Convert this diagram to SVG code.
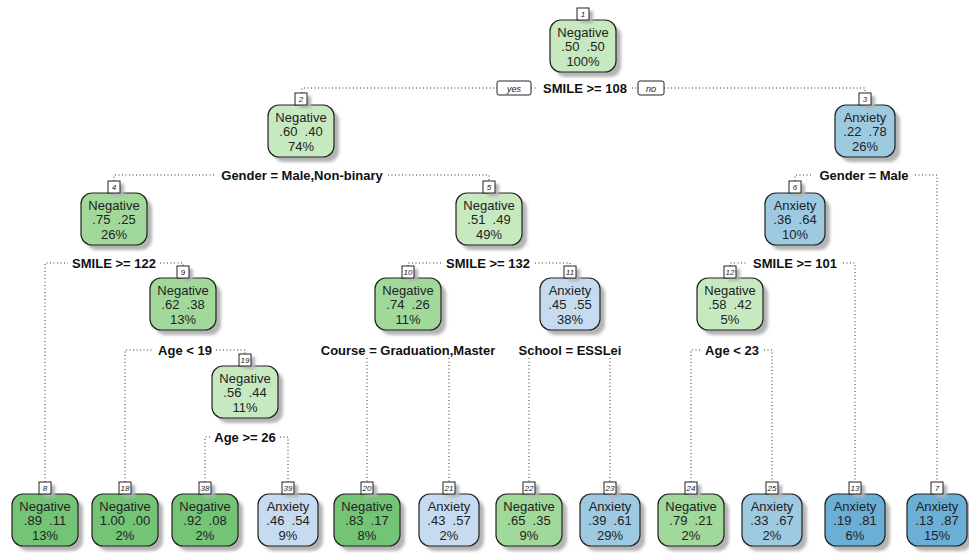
<svg xmlns="http://www.w3.org/2000/svg" width="969" height="553" viewBox="0 0 969 553">
<defs>
<filter id="blur" x="-20%" y="-20%" width="140%" height="140%"><feGaussianBlur stdDeviation="1.6"/></filter>
</defs>
<style>
.sh{fill:#b4b4b4;filter:url(#blur)}
.bx{stroke:#222;stroke-width:1.2}
.g1{fill:#c7e9c0}.g2{fill:#a1d99b}.g3{fill:#74c476}
.b1{fill:#c6dbef}.b2{fill:#9ecae1}.b3{fill:#6baed6}
.t{font-family:"Liberation Sans",Arial,sans-serif;font-size:13px;fill:#222;text-anchor:middle}
.nl{fill:#fff;stroke:#222;stroke-width:1}
.nt{font-family:"Liberation Sans",Arial,sans-serif;font-size:8px;font-style:italic;fill:#222;text-anchor:middle}
.sp{font-family:"Liberation Sans",Arial,sans-serif;font-size:13px;font-weight:bold;fill:#111;text-anchor:middle}
.c{fill:none;stroke:#333;stroke-width:1;stroke-dasharray:1,2.5}
.yn{fill:#fff;stroke:#222;stroke-width:1}
.ynt{font-family:"Liberation Sans",Arial,sans-serif;font-size:9px;font-style:italic;fill:#222;text-anchor:middle}
</style>
<rect width="969" height="553" fill="#fff"/>

<g id="connectors">
<path class="c" d="M302 93V88H497M531 88H538M632 88H638M664 88H865V93"/>
<path class="c" d="M114 181V175H216M388 175H489V181"/>
<path class="c" d="M795 181V175H813M915 175H937V482"/>
<path class="c" d="M45 482V263H68M160 263H183V266"/>
<path class="c" d="M408 266V263H441M535 263H570V266"/>
<path class="c" d="M730 266V263H746M843 263H855V482"/>
<path class="c" d="M125 482V350H153M216 350H245V354"/>
<path class="c" d="M367 358V482M449 358V482"/>
<path class="c" d="M529 358V482M610 358V482"/>
<path class="c" d="M691 482V350H700M764 350H772V482"/>
<path class="c" d="M205 482V437H211M280 437H288V482"/>
<rect class="yn" x="497" y="81" width="34" height="14" rx="2"/>
<text class="ynt" x="514" y="91.5">yes</text>
<rect class="yn" x="638" y="81" width="26" height="14" rx="2"/>
<text class="ynt" x="651" y="91.5">no</text>
<text class="sp" x="585" y="92.5">SMILE &gt;= 108</text>
<text class="sp" x="302" y="179.5">Gender = Male,Non-binary</text>
<text class="sp" x="864" y="179.5">Gender = Male</text>
<text class="sp" x="114" y="267.5">SMILE &gt;= 122</text>
<text class="sp" x="488" y="267.5">SMILE &gt;= 132</text>
<text class="sp" x="795" y="267.5">SMILE &gt;= 101</text>
<text class="sp" x="185" y="354.5">Age &lt; 19</text>
<text class="sp" x="408" y="354.5">Course = Graduation,Master</text>
<text class="sp" x="570" y="354.5">School = ESSLei</text>
<text class="sp" x="732" y="354.5">Age &lt; 23</text>
<text class="sp" x="245" y="441.5">Age &gt;= 26</text>
</g>

<g id="node1"><rect class="sh" x="555" y="25" width="66" height="52" rx="11"/><rect class="bx g1" x="550" y="20" width="66" height="52" rx="11"/><rect class="sh" x="581" y="11" width="12" height="12"/><rect class="nl" x="577" y="8" width="12" height="12"/><text class="nt" x="583" y="17">1</text><text class="t" x="583" y="37">Negative</text><text class="t" x="583" y="51">.50&#160;&#160;.50</text><text class="t" x="583" y="65.5">100%</text></g>
<g id="node2"><rect class="sh" x="273" y="110" width="66" height="52" rx="11"/><rect class="bx g1" x="268" y="105" width="66" height="52" rx="11"/><rect class="sh" x="299" y="96" width="12" height="12"/><rect class="nl" x="295" y="93" width="12" height="12"/><text class="nt" x="301" y="102">2</text><text class="t" x="301" y="122">Negative</text><text class="t" x="301" y="136">.60&#160;&#160;.40</text><text class="t" x="301" y="150.5">74%</text></g>
<g id="node3"><rect class="sh" x="840" y="110" width="60" height="52" rx="11"/><rect class="bx b2" x="835" y="105" width="60" height="52" rx="11"/><rect class="sh" x="863" y="96" width="12" height="12"/><rect class="nl" x="859" y="93" width="12" height="12"/><text class="nt" x="865" y="102">3</text><text class="t" x="865" y="122">Anxiety</text><text class="t" x="865" y="136">.22&#160;&#160;.78</text><text class="t" x="865" y="150.5">26%</text></g>
<g id="node4"><rect class="sh" x="86" y="198" width="66" height="52" rx="11"/><rect class="bx g2" x="81" y="193" width="66" height="52" rx="11"/><rect class="sh" x="112" y="184" width="12" height="12"/><rect class="nl" x="108" y="181" width="12" height="12"/><text class="nt" x="114" y="190">4</text><text class="t" x="114" y="210">Negative</text><text class="t" x="114" y="224">.75&#160;&#160;.25</text><text class="t" x="114" y="238.5">26%</text></g>
<g id="node5"><rect class="sh" x="461" y="198" width="66" height="52" rx="11"/><rect class="bx g1" x="456" y="193" width="66" height="52" rx="11"/><rect class="sh" x="487" y="184" width="12" height="12"/><rect class="nl" x="483" y="181" width="12" height="12"/><text class="nt" x="489" y="190">5</text><text class="t" x="489" y="210">Negative</text><text class="t" x="489" y="224">.51&#160;&#160;.49</text><text class="t" x="489" y="238.5">49%</text></g>
<g id="node6"><rect class="sh" x="770" y="198" width="60" height="52" rx="11"/><rect class="bx b2" x="765" y="193" width="60" height="52" rx="11"/><rect class="sh" x="793" y="184" width="12" height="12"/><rect class="nl" x="789" y="181" width="12" height="12"/><text class="nt" x="795" y="190">6</text><text class="t" x="795" y="210">Anxiety</text><text class="t" x="795" y="224">.36&#160;&#160;.64</text><text class="t" x="795" y="238.5">10%</text></g>
<g id="node9"><rect class="sh" x="155" y="283" width="66" height="52" rx="11"/><rect class="bx g2" x="150" y="278" width="66" height="52" rx="11"/><rect class="sh" x="181" y="269" width="12" height="12"/><rect class="nl" x="177" y="266" width="12" height="12"/><text class="nt" x="183" y="275">9</text><text class="t" x="183" y="295">Negative</text><text class="t" x="183" y="309">.62&#160;&#160;.38</text><text class="t" x="183" y="323.5">13%</text></g>
<g id="node10"><rect class="sh" x="380" y="283" width="66" height="52" rx="11"/><rect class="bx g2" x="375" y="278" width="66" height="52" rx="11"/><rect class="sh" x="406" y="269" width="12" height="12"/><rect class="nl" x="402" y="266" width="12" height="12"/><text class="nt" x="408" y="275">10</text><text class="t" x="408" y="295">Negative</text><text class="t" x="408" y="309">.74&#160;&#160;.26</text><text class="t" x="408" y="323.5">11%</text></g>
<g id="node11"><rect class="sh" x="545" y="283" width="60" height="52" rx="11"/><rect class="bx b1" x="540" y="278" width="60" height="52" rx="11"/><rect class="sh" x="568" y="269" width="12" height="12"/><rect class="nl" x="564" y="266" width="12" height="12"/><text class="nt" x="570" y="275">11</text><text class="t" x="570" y="295">Anxiety</text><text class="t" x="570" y="309">.45&#160;&#160;.55</text><text class="t" x="570" y="323.5">38%</text></g>
<g id="node12"><rect class="sh" x="702" y="283" width="66" height="52" rx="11"/><rect class="bx g1" x="697" y="278" width="66" height="52" rx="11"/><rect class="sh" x="728" y="269" width="12" height="12"/><rect class="nl" x="724" y="266" width="12" height="12"/><text class="nt" x="730" y="275">12</text><text class="t" x="730" y="295">Negative</text><text class="t" x="730" y="309">.58&#160;&#160;.42</text><text class="t" x="730" y="323.5">5%</text></g>
<g id="node19"><rect class="sh" x="217" y="371" width="66" height="52" rx="11"/><rect class="bx g1" x="212" y="366" width="66" height="52" rx="11"/><rect class="sh" x="243" y="357" width="12" height="12"/><rect class="nl" x="239" y="354" width="12" height="12"/><text class="nt" x="245" y="363">19</text><text class="t" x="245" y="383">Negative</text><text class="t" x="245" y="397">.56&#160;&#160;.44</text><text class="t" x="245" y="411.5">11%</text></g>

<g id="node8"><rect class="sh" x="17" y="499" width="66" height="52" rx="11"/><rect class="bx g3" x="12" y="494" width="66" height="52" rx="11"/><rect class="sh" x="43" y="485" width="12" height="12"/><rect class="nl" x="39" y="482" width="12" height="12"/><text class="nt" x="45" y="491">8</text><text class="t" x="45" y="511">Negative</text><text class="t" x="45" y="525">.89&#160;&#160;.11</text><text class="t" x="45" y="539.5">13%</text></g>
<g id="node18"><rect class="sh" x="97" y="499" width="66" height="52" rx="11"/><rect class="bx g3" x="92" y="494" width="66" height="52" rx="11"/><rect class="sh" x="123" y="485" width="12" height="12"/><rect class="nl" x="119" y="482" width="12" height="12"/><text class="nt" x="125" y="491">18</text><text class="t" x="125" y="511">Negative</text><text class="t" x="125" y="525">1.00&#160;&#160;.00</text><text class="t" x="125" y="539.5">2%</text></g>
<g id="node38"><rect class="sh" x="177" y="499" width="66" height="52" rx="11"/><rect class="bx g3" x="172" y="494" width="66" height="52" rx="11"/><rect class="sh" x="203" y="485" width="12" height="12"/><rect class="nl" x="199" y="482" width="12" height="12"/><text class="nt" x="205" y="491">38</text><text class="t" x="205" y="511">Negative</text><text class="t" x="205" y="525">.92&#160;&#160;.08</text><text class="t" x="205" y="539.5">2%</text></g>
<g id="node39"><rect class="sh" x="263" y="499" width="60" height="52" rx="11"/><rect class="bx b1" x="258" y="494" width="60" height="52" rx="11"/><rect class="sh" x="286" y="485" width="12" height="12"/><rect class="nl" x="282" y="482" width="12" height="12"/><text class="nt" x="288" y="491">39</text><text class="t" x="288" y="511">Anxiety</text><text class="t" x="288" y="525">.46&#160;&#160;.54</text><text class="t" x="288" y="539.5">9%</text></g>
<g id="node20"><rect class="sh" x="339" y="499" width="66" height="52" rx="11"/><rect class="bx g3" x="334" y="494" width="66" height="52" rx="11"/><rect class="sh" x="365" y="485" width="12" height="12"/><rect class="nl" x="361" y="482" width="12" height="12"/><text class="nt" x="367" y="491">20</text><text class="t" x="367" y="511">Negative</text><text class="t" x="367" y="525">.83&#160;&#160;.17</text><text class="t" x="367" y="539.5">8%</text></g>
<g id="node21"><rect class="sh" x="424" y="499" width="60" height="52" rx="11"/><rect class="bx b1" x="419" y="494" width="60" height="52" rx="11"/><rect class="sh" x="447" y="485" width="12" height="12"/><rect class="nl" x="443" y="482" width="12" height="12"/><text class="nt" x="449" y="491">21</text><text class="t" x="449" y="511">Anxiety</text><text class="t" x="449" y="525">.43&#160;&#160;.57</text><text class="t" x="449" y="539.5">2%</text></g>
<g id="node22"><rect class="sh" x="501" y="499" width="66" height="52" rx="11"/><rect class="bx g2" x="496" y="494" width="66" height="52" rx="11"/><rect class="sh" x="527" y="485" width="12" height="12"/><rect class="nl" x="523" y="482" width="12" height="12"/><text class="nt" x="529" y="491">22</text><text class="t" x="529" y="511">Negative</text><text class="t" x="529" y="525">.65&#160;&#160;.35</text><text class="t" x="529" y="539.5">9%</text></g>
<g id="node23"><rect class="sh" x="585" y="499" width="60" height="52" rx="11"/><rect class="bx b2" x="580" y="494" width="60" height="52" rx="11"/><rect class="sh" x="608" y="485" width="12" height="12"/><rect class="nl" x="604" y="482" width="12" height="12"/><text class="nt" x="610" y="491">23</text><text class="t" x="610" y="511">Anxiety</text><text class="t" x="610" y="525">.39&#160;&#160;.61</text><text class="t" x="610" y="539.5">29%</text></g>
<g id="node24"><rect class="sh" x="663" y="499" width="66" height="52" rx="11"/><rect class="bx g2" x="658" y="494" width="66" height="52" rx="11"/><rect class="sh" x="689" y="485" width="12" height="12"/><rect class="nl" x="685" y="482" width="12" height="12"/><text class="nt" x="691" y="491">24</text><text class="t" x="691" y="511">Negative</text><text class="t" x="691" y="525">.79&#160;&#160;.21</text><text class="t" x="691" y="539.5">2%</text></g>
<g id="node25"><rect class="sh" x="747" y="499" width="60" height="52" rx="11"/><rect class="bx b2" x="742" y="494" width="60" height="52" rx="11"/><rect class="sh" x="770" y="485" width="12" height="12"/><rect class="nl" x="766" y="482" width="12" height="12"/><text class="nt" x="772" y="491">25</text><text class="t" x="772" y="511">Anxiety</text><text class="t" x="772" y="525">.33&#160;&#160;.67</text><text class="t" x="772" y="539.5">2%</text></g>
<g id="node13"><rect class="sh" x="830" y="499" width="60" height="52" rx="11"/><rect class="bx b3" x="825" y="494" width="60" height="52" rx="11"/><rect class="sh" x="853" y="485" width="12" height="12"/><rect class="nl" x="849" y="482" width="12" height="12"/><text class="nt" x="855" y="491">13</text><text class="t" x="855" y="511">Anxiety</text><text class="t" x="855" y="525">.19&#160;&#160;.81</text><text class="t" x="855" y="539.5">6%</text></g>
<g id="node7"><rect class="sh" x="912" y="499" width="60" height="52" rx="11"/><rect class="bx b3" x="907" y="494" width="60" height="52" rx="11"/><rect class="sh" x="935" y="485" width="12" height="12"/><rect class="nl" x="931" y="482" width="12" height="12"/><text class="nt" x="937" y="491">7</text><text class="t" x="937" y="511">Anxiety</text><text class="t" x="937" y="525">.13&#160;&#160;.87</text><text class="t" x="937" y="539.5">15%</text></g>
</svg>
